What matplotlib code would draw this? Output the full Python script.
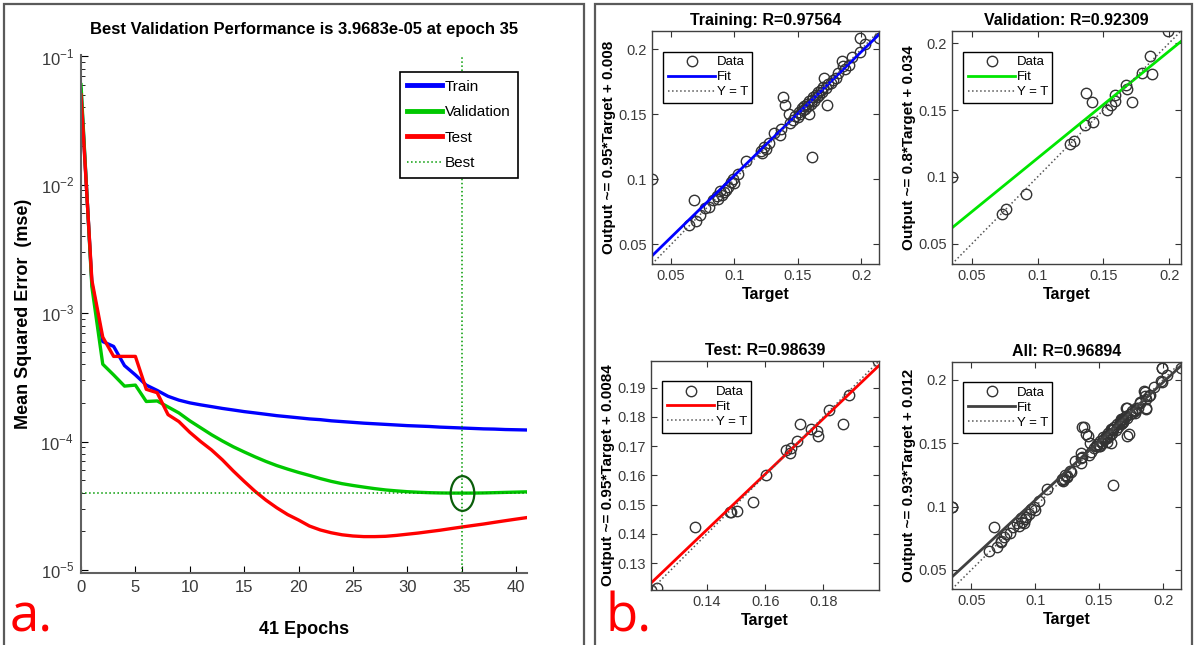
import matplotlib.pyplot as plt
import matplotlib.patches as patches
from matplotlib.path import Path
from matplotlib.ticker import FixedLocator, FuncFormatter, NullFormatter
import numpy as np

W, H = 1195, 645
ARIAL = ['Liberation Sans', 'DejaVu Sans']

plt.rcParams['font.family'] = ARIAL
plt.rcParams['mathtext.fontset'] = 'custom'
plt.rcParams['mathtext.rm'] = 'Liberation Sans'

# ---------------- a. performance curves ----------------
epochs = list(range(42))
train_perf = [5.5e-2, 1.7e-3, 6.0e-4, 5.5e-4, 3.9e-4, 3.3e-4, 2.75e-4, 2.5e-4, 2.25e-4, 2.1e-4,
              2.0e-4, 1.93e-4, 1.87e-4, 1.81e-4, 1.76e-4, 1.71e-4, 1.67e-4, 1.63e-4, 1.59e-4, 1.56e-4,
              1.53e-4, 1.50e-4, 1.48e-4, 1.45e-4, 1.43e-4, 1.41e-4, 1.39e-4, 1.375e-4, 1.36e-4, 1.345e-4,
              1.33e-4, 1.32e-4, 1.31e-4, 1.295e-4, 1.285e-4, 1.275e-4, 1.265e-4, 1.255e-4, 1.25e-4, 1.24e-4,
              1.235e-4, 1.23e-4]
val_perf = [6.0e-2, 1.6e-3, 4.0e-4, 3.3e-4, 2.7e-4, 2.75e-4, 2.05e-4, 2.07e-4, 1.86e-4, 1.67e-4,
            1.45e-4, 1.28e-4, 1.13e-4, 1.01e-4, 9.1e-5, 8.3e-5, 7.6e-5, 7.0e-5, 6.5e-5, 6.1e-5,
            5.75e-5, 5.45e-5, 5.15e-5, 4.9e-5, 4.7e-5, 4.55e-5, 4.42e-5, 4.3e-5, 4.2e-5, 4.13e-5,
            4.07e-5, 4.03e-5, 4.0e-5, 3.98e-5, 3.97e-5, 3.9683e-5, 3.97e-5, 3.98e-5, 4.0e-5, 4.02e-5,
            4.04e-5, 4.06e-5]
test_perf = [5.0e-2, 1.8e-3, 6.5e-4, 4.6e-4, 4.6e-4, 4.6e-4, 2.55e-4, 2.4e-4, 1.62e-4, 1.43e-4,
             1.18e-4, 1.0e-4, 8.6e-5, 7.2e-5, 5.9e-5, 4.9e-5, 4.1e-5, 3.5e-5, 3.05e-5, 2.7e-5,
             2.45e-5, 2.2e-5, 2.05e-5, 1.95e-5, 1.88e-5, 1.84e-5, 1.82e-5, 1.82e-5, 1.83e-5, 1.86e-5,
             1.9e-5, 1.94e-5, 1.99e-5, 2.04e-5, 2.1e-5, 2.16e-5, 2.22e-5, 2.28e-5, 2.35e-5, 2.42e-5,
             2.49e-5, 2.56e-5]
best_epoch = 35
best_perf = 3.9683e-05

# ---------------- b. regression data (target, output) ----------------
train_t = [0.035, 0.064, 0.068, 0.070, 0.073, 0.077, 0.080, 0.083, 0.086, 0.087, 0.089, 0.090,
           0.092, 0.093, 0.095, 0.097, 0.099, 0.100, 0.103, 0.109, 0.121, 0.122, 0.123, 0.125,
           0.127, 0.131, 0.136, 0.137, 0.138, 0.140, 0.143, 0.144, 0.146, 0.148, 0.150, 0.151,
           0.152, 0.153, 0.154, 0.155, 0.156, 0.157, 0.158, 0.159, 0.159, 0.160, 0.161, 0.161,
           0.162, 0.163, 0.164, 0.165, 0.166, 0.167, 0.168, 0.169, 0.170, 0.171, 0.172, 0.173,
           0.174, 0.176, 0.178, 0.180, 0.182, 0.185, 0.186, 0.187, 0.190, 0.193, 0.199, 0.199,
           0.203, 0.214]
train_y = [0.100, 0.065, 0.084, 0.068, 0.073, 0.078, 0.079, 0.084, 0.087, 0.085, 0.091, 0.088,
           0.090, 0.092, 0.094, 0.098, 0.100, 0.097, 0.104, 0.114, 0.122, 0.120, 0.125, 0.123,
           0.128, 0.136, 0.134, 0.139, 0.163, 0.157, 0.150, 0.143, 0.146, 0.149, 0.148, 0.152,
           0.150, 0.155, 0.153, 0.156, 0.154, 0.158, 0.156, 0.150, 0.160, 0.158, 0.161, 0.117,
           0.163, 0.160, 0.165, 0.163, 0.167, 0.165, 0.169, 0.167, 0.171, 0.178, 0.170, 0.157,
           0.173, 0.174, 0.176, 0.178, 0.182, 0.191, 0.187, 0.185, 0.188, 0.194, 0.198, 0.209,
           0.204, 0.209]
val_t = [0.035, 0.073, 0.076, 0.091, 0.1245, 0.128, 0.136, 0.142, 0.137, 0.141, 0.1525, 0.1555,
         0.159, 0.159, 0.167, 0.168, 0.172, 0.179, 0.1855, 0.187, 0.199]
val_y = [0.100, 0.072, 0.076, 0.087, 0.1245, 0.127, 0.1385, 0.141, 0.1625, 0.1557, 0.150, 0.154,
         0.157, 0.161, 0.169, 0.166, 0.156, 0.1775, 0.190, 0.177, 0.209]
test_t = [0.1208, 0.1228, 0.136, 0.1479, 0.1484, 0.1505, 0.1559, 0.1602, 0.1673, 0.1686, 0.169,
          0.171, 0.1718, 0.1756, 0.1779, 0.1781, 0.1818, 0.1867, 0.1887, 0.1986]
test_y = [0.1208, 0.1215, 0.1425, 0.1474, 0.1474, 0.1477, 0.151, 0.1601, 0.1686, 0.1677, 0.1692,
          0.1717, 0.1777, 0.1757, 0.1753, 0.1734, 0.1824, 0.1774, 0.1874, 0.1991]
all_t = train_t + val_t + test_t
all_y = train_y + val_y + test_y

fits = {'Training': (0.95, 0.008), 'Validation': (0.8, 0.034), 'Test': (0.95, 0.0084), 'All': (0.93, 0.012)}
r_values = {'Training': 0.97564, 'Validation': 0.92309, 'Test': 0.98639, 'All': 0.96894}
ticks_wide = [0.05, 0.1, 0.15, 0.2]
test_xticks = [0.14, 0.16, 0.18]
test_yticks = [0.13, 0.14, 0.15, 0.16, 0.17, 0.18, 0.19]


def px_axes(fig, l, t, r, b):
    return fig.add_axes([l / W, 1 - b / H, (r - l) / W, (b - t) / H])


fig = plt.figure(figsize=(W / 100, H / 100), dpi=100)

# panel borders
for (l, t, r, b) in [(4, 4, 584, 660), (595, 4, 1192, 660)]:
    fig.add_artist(patches.Rectangle((l / W, 1 - b / H), (r - l) / W, (b - t) / H,
                                     transform=fig.transFigure, fill=False,
                                     ec='#5a5a5a', lw=1.6))

# ---------------- a. ----------------
ax = px_axes(fig, 81, 55, 527, 573)
ax.semilogy(epochs, train_perf, color='#0000ff', lw=2.4, label='Train')
ax.semilogy(epochs, val_perf, color='#00c800', lw=2.4, label='Validation')
ax.semilogy(epochs, test_perf, color='#ff0000', lw=2.4, label='Test')
ax.axvline(best_epoch, color='#009a00', ls=':', lw=1.1, label='Best')
ax.axhline(best_perf, color='#009a00', ls=':', lw=1.1)
circ = Path.unit_circle()
ell = Path(circ.vertices * np.array([0.68, 1.0]), circ.codes)
ax.plot(best_epoch, best_perf, marker=ell, ms=25, mfc='none', mec='#0b5e0b', mew=1.6)

ax.set_xlim(0, 41)
ax.set_ylim(9.48e-6, 1.02e-1)
ax.set_xticks(range(0, 41, 5))
ax.yaxis.set_major_locator(FixedLocator([1e-5, 1e-4, 1e-3, 1e-2, 1e-1]))
ax.yaxis.set_minor_locator(FixedLocator([m * 10.0 ** e for e in range(-5, -1) for m in range(2, 10)]))
ax.yaxis.set_minor_formatter(NullFormatter())
ax.yaxis.set_major_formatter(FuncFormatter(lambda v, p: r'$10^{%d}$' % round(np.log10(v))))
ax.tick_params(which='both', direction='in', color='black', labelcolor='#3a3a3a', labelsize=12)
ax.tick_params(which='major', length=5, pad=5)
ax.tick_params(which='minor', length=3)
for s in ['top', 'right']:
    ax.spines[s].set_visible(False)
for s in ['left', 'bottom']:
    ax.spines[s].set_color('#606060')
    ax.spines[s].set_linewidth(1.5)

ax.set_title('Best Validation Performance is 3.9683e-05 at epoch 35', fontsize=12,
             fontweight='bold', pad=15)
ax.set_xlabel('41 Epochs', fontsize=13, fontweight='bold', va='center')
ax.xaxis.set_label_coords(0.5, -0.11)
ax.set_ylabel('Mean Squared Error  (mse)', fontsize=13, fontweight='bold', va='center')
ax.yaxis.set_label_coords(-0.128, 0.5)

leg = ax.legend(loc='upper right', bbox_to_anchor=(0.98, 0.967), borderaxespad=0,
                fancybox=False, edgecolor='black', framealpha=1, prop={'size': 11},
                handlelength=2.3, handletextpad=0.15, labelspacing=0.75, borderpad=0.5)
leg.get_frame().set_linewidth(1.2)
for line in leg.get_lines()[:3]:
    line.set_linewidth(3.5)

fig.text(10 / W, 1 - 644 / H, 'a.', color='#ff0000', fontsize=38, va='bottom',
         family=['Open Sans', 'DejaVu Sans'])

# ---------------- b. ----------------
panels = [
    ('Training', train_t, train_y, '#0000ff', (652, 31, 879, 264), ticks_wide, ticks_wide, '0.008'),
    ('Validation', val_t, val_y, '#00e600', (952, 31, 1181, 264), ticks_wide, ticks_wide, '0.034'),
    ('Test', test_t, test_y, '#ff0000', (651, 361, 879, 590), test_xticks, test_yticks, '0.0084'),
    ('All', all_t, all_y, '#404040', (952, 362, 1181, 589), ticks_wide, ticks_wide, '0.012'),
]

for name, t, y, col, box, xt, yt, btxt in panels:
    a, b = fits[name]
    bx = px_axes(fig, *box)
    lo = min(min(t), min(y))
    hi = max(max(t), max(y))
    bx.plot(t, y, 'o', mfc='none', mec='#333333', ms=7.5, mew=1.0, label='Data')
    bx.plot([lo, hi], [a * lo + b, a * hi + b], color=col, lw=2.0, label='Fit')
    bx.plot([lo, hi], [lo, hi], ':', color='#555555', lw=1.1, label='Y = T')
    bx.set_xlim(lo, hi)
    bx.set_ylim(lo, hi)
    bx.set_xticks(xt)
    bx.set_yticks(yt)
    fmt = FuncFormatter(lambda v, p: ('%g' % round(v, 4)))
    bx.xaxis.set_major_formatter(fmt)
    bx.yaxis.set_major_formatter(fmt)
    bx.tick_params(direction='in', top=True, right=True, length=4, labelsize=10.5,
                   labelcolor='#3a3a3a', color='#333333')
    for s in bx.spines.values():
        s.set_color('#404040')
        s.set_linewidth(1.0)
    bx.set_title('%s: R=%s' % (name, r_values[name]), fontsize=11.5, fontweight='bold', pad=4)
    bx.set_xlabel('Target', fontsize=11.5, fontweight='bold', labelpad=3)
    bx.set_ylabel('Output ~= %g*Target + %s' % (a, btxt), fontsize=11, fontweight='bold',
                  labelpad=2)
    lg = bx.legend(loc='upper left', bbox_to_anchor=(0.02, 0.94), fancybox=False,
                   edgecolor='black', framealpha=1, fontsize=9.5, handlelength=3.6,
                   handletextpad=0.1, labelspacing=0.2, borderpad=0.35)
    lg.get_frame().set_linewidth(1.0)

fig.text(605 / W, 1 - 644 / H, 'b.', color='#ff0000', fontsize=38, va='bottom',
         family=['Open Sans', 'DejaVu Sans'])

plt.savefig('out.png', dpi=100)
